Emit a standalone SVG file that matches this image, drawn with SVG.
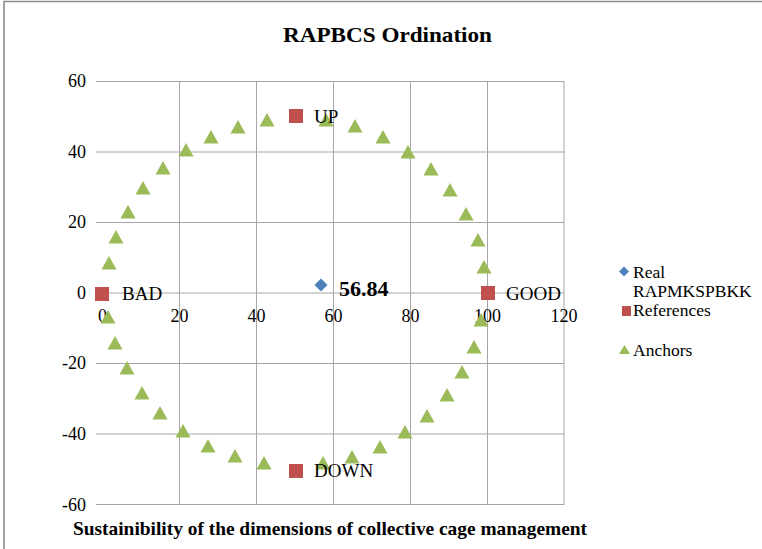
<svg xmlns="http://www.w3.org/2000/svg" xmlns:xlink="http://www.w3.org/1999/xlink" width="762" height="549" viewBox="0 0 762 549">
<style>
.grid{stroke:#a6a6a6;stroke-width:1;fill:none}
text{font-family:'Liberation Serif','Times New Roman',Times,'DejaVu Serif',serif;fill:#000}
.tick{font-size:18px}
.lbl{font-size:19px}
.leg{font-size:17.5px}
.bold{font-weight:bold}
.anc{fill:#9bbb59}
.ref{fill:#c0504d}
.real{fill:#4f81bd}
</style>
<defs>
<path id="tri" d="M0,-7 L7.5,6.5 L-7.5,6.5 Z"/>
<rect id="sq" x="-7" y="-7" width="14" height="14"/>
<path id="dia" d="M0,-6.5 L6.5,0 L0,6.5 L-6.5,0 Z"/>
</defs>
<rect width="762" height="549" fill="#fff"/>
<path d="M4,549 V1.5 H762" stroke="#8c8c8c" stroke-width="1.6" fill="none"/>
<g font-family="'Liberation Serif','Times New Roman',Times,serif">
<text class="bold" x="387.5" y="42" font-size="22" text-anchor="middle" textLength="209" lengthAdjust="spacingAndGlyphs">RAPBCS Ordination</text>
<g id="grid">
<path class="grid" d="M96,81.5 H564 M96,152 H564 M96,222.5 H564 M96,293 H564 M96,363.5 H564 M96,434 H564 M96,504.5 H564"/>
<path class="grid" d="M179.5,81 V505 M256.5,81 V505 M333.5,81 V505 M410.5,81 V505 M487.5,81 V505 M564,81 V505"/>
<path class="grid" d="M102.5,293 V299"/>
</g>
<g id="yticks" class="tick" text-anchor="end">
<text class="tick" x="86" y="87">60</text>
<text class="tick" x="86" y="158">40</text>
<text class="tick" x="86" y="228">20</text>
<text class="tick" x="86" y="299">0</text>
<text class="tick" x="86" y="369">-20</text>
<text class="tick" x="86" y="440">-40</text>
<text class="tick" x="86" y="511">-60</text>
</g>
<g id="xticks" class="tick" text-anchor="middle">
<text class="tick" x="102.5" y="322">0</text>
<text class="tick" x="179.5" y="322">20</text>
<text class="tick" x="256.5" y="322">40</text>
<text class="tick" x="333.5" y="322">60</text>
<text class="tick" x="410.5" y="322">80</text>
<text class="tick" x="487.5" y="322">100</text>
<text class="tick" x="564" y="322">120</text>
</g>
<g id="anchors" class="anc">
<use xlink:href="#tri" x="109" y="263"/><use xlink:href="#tri" x="116" y="237"/><use xlink:href="#tri" x="128" y="212"/><use xlink:href="#tri" x="143" y="188"/><use xlink:href="#tri" x="163" y="168"/><use xlink:href="#tri" x="186" y="150"/><use xlink:href="#tri" x="211" y="137"/><use xlink:href="#tri" x="238" y="127"/><use xlink:href="#tri" x="267" y="120"/>
<use xlink:href="#tri" x="326" y="120"/><use xlink:href="#tri" x="355" y="126"/><use xlink:href="#tri" x="383" y="137"/><use xlink:href="#tri" x="408" y="152"/><use xlink:href="#tri" x="431" y="169"/><use xlink:href="#tri" x="450" y="190"/><use xlink:href="#tri" x="466" y="214"/><use xlink:href="#tri" x="478" y="240"/><use xlink:href="#tri" x="484" y="267"/>
<use xlink:href="#tri" x="108" y="317"/><use xlink:href="#tri" x="115" y="343"/><use xlink:href="#tri" x="127" y="368"/><use xlink:href="#tri" x="142" y="393"/><use xlink:href="#tri" x="160" y="413"/><use xlink:href="#tri" x="183" y="431"/><use xlink:href="#tri" x="208" y="446"/><use xlink:href="#tri" x="235" y="456"/><use xlink:href="#tri" x="264" y="463"/>
<use xlink:href="#tri" x="323" y="463"/><use xlink:href="#tri" x="352" y="457"/><use xlink:href="#tri" x="380" y="447"/><use xlink:href="#tri" x="405" y="432"/><use xlink:href="#tri" x="427" y="416"/><use xlink:href="#tri" x="447" y="395"/><use xlink:href="#tri" x="462" y="372"/><use xlink:href="#tri" x="474" y="347"/><use xlink:href="#tri" x="481" y="320"/>
</g>
<g id="ref-up"><use class="ref" xlink:href="#sq" x="296" y="116"/><text class="lbl" x="314" y="123">UP</text></g>
<g id="ref-bad"><use class="ref" xlink:href="#sq" x="102" y="294"/><text class="lbl" x="122" y="300">BAD</text></g>
<g id="ref-good"><use class="ref" xlink:href="#sq" x="488" y="293"/><text class="lbl" x="506" y="300">GOOD</text></g>
<g id="ref-down"><use class="ref" xlink:href="#sq" x="296" y="471"/><text class="lbl" x="314" y="477">DOWN</text></g>
<g id="real"><use class="real" xlink:href="#dia" x="321" y="285"/><text class="bold" x="339" y="296" font-size="22">56.84</text></g>
<g id="legend">
<path class="real" d="M624,266.5 L629,271.5 L624,276.5 L619,271.5 Z"/>
<text class="leg" x="633" y="278">Real</text>
<text class="leg" x="633" y="297">RAPMKSPBKK</text>
<rect class="ref" x="622" y="306" width="9" height="10"/>
<text class="leg" x="633" y="316">References</text>
<path class="anc" d="M624.5,345 L630,354 L619,354 Z"/>
<text class="leg" x="633" y="356">Anchors</text>
</g>
<text class="bold" x="73" y="535" font-size="19.5" textLength="514" lengthAdjust="spacingAndGlyphs">Sustainibility of the dimensions of collective cage management</text>
</g>
</svg>
